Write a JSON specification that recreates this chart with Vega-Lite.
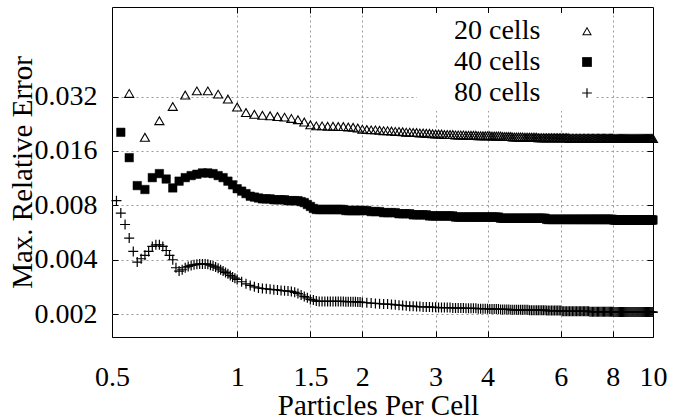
{
"$schema": "https://vega.github.io/schema/vega-lite/v6.json",
"width": 541, "height": 330,
"autosize": {"type": "none"},
"padding": {"left": 112, "top": 7, "right": 20, "bottom": 82},
"background": "white",
"config": {
  "font": "Liberation Serif",
  "view": {"stroke": "black", "strokeWidth": 1},
  "legend": {"labelFont": "Liberation Serif", "titleFont": "Liberation Serif"},
  "axis": {"labelFont": "Liberation Serif", "titleFont": "Liberation Serif", "labelFontSize": 28, "titleFontSize": 29, "labelColor": "black", "titleColor": "black", "titleFontWeight": "normal", "tickColor": "black", "tickWidth": 1, "gridColor": "#999999", "gridDash": [2, 3], "gridWidth": 1, "gridOpacity": 1, "domain": false, "labelFlush": false, "labelOverlap": false}
},
"datasets": {
"c20": [
{"x":0.55,"y":0.0334},{"x":0.6,"y":0.0191},{"x":0.65,"y":0.0236},{"x":0.7,"y":0.0283},{"x":0.75,"y":0.0327},{"x":0.8,"y":0.0345},{"x":0.85,"y":0.0345},{"x":0.9,"y":0.0331},{"x":0.95,"y":0.0311},{"x":1,"y":0.0281},
{"x":1.05,"y":0.0262},{"x":1.1,"y":0.0256},{"x":1.15,"y":0.0253},{"x":1.2,"y":0.0251},{"x":1.25,"y":0.0249},{"x":1.3,"y":0.0247},{"x":1.35,"y":0.0243},{"x":1.4,"y":0.0239},{"x":1.45,"y":0.0232},{"x":1.5,"y":0.0224},
{"x":1.55,"y":0.0221},{"x":1.6,"y":0.0221},{"x":1.65,"y":0.022},{"x":1.7,"y":0.022},{"x":1.75,"y":0.0219},{"x":1.8,"y":0.0219},{"x":1.85,"y":0.0218},{"x":1.9,"y":0.0217},{"x":1.95,"y":0.0215},{"x":2,"y":0.0212},
{"x":2.05,"y":0.0211},{"x":2.1,"y":0.021},{"x":2.15,"y":0.021},{"x":2.2,"y":0.0209},{"x":2.25,"y":0.0208},{"x":2.3,"y":0.0208},{"x":2.35,"y":0.0207},{"x":2.4,"y":0.0206},{"x":2.45,"y":0.0206},{"x":2.5,"y":0.0205},
{"x":2.55,"y":0.0204},{"x":2.6,"y":0.0204},{"x":2.65,"y":0.0203},{"x":2.7,"y":0.0203},{"x":2.75,"y":0.0202},{"x":2.8,"y":0.0202},{"x":2.85,"y":0.0201},{"x":2.9,"y":0.0201},{"x":2.95,"y":0.02},{"x":3,"y":0.0199},
{"x":3.05,"y":0.0199},{"x":3.1,"y":0.0199},{"x":3.15,"y":0.0198},{"x":3.2,"y":0.0198},{"x":3.25,"y":0.0198},{"x":3.3,"y":0.0198},{"x":3.35,"y":0.0197},{"x":3.4,"y":0.0197},{"x":3.45,"y":0.0197},{"x":3.5,"y":0.0197},
{"x":3.55,"y":0.0196},{"x":3.6,"y":0.0196},{"x":3.65,"y":0.0196},{"x":3.7,"y":0.0196},{"x":3.75,"y":0.0196},{"x":3.8,"y":0.0195},{"x":3.85,"y":0.0195},{"x":3.9,"y":0.0195},{"x":3.95,"y":0.0195},{"x":4,"y":0.0195},
{"x":4.05,"y":0.0195},{"x":4.1,"y":0.0194},{"x":4.15,"y":0.0194},{"x":4.2,"y":0.0194},{"x":4.25,"y":0.0194},{"x":4.3,"y":0.0194},{"x":4.35,"y":0.0193},{"x":4.4,"y":0.0193},{"x":4.45,"y":0.0193},{"x":4.5,"y":0.0193},
{"x":4.55,"y":0.0193},{"x":4.6,"y":0.0192},{"x":4.65,"y":0.0192},{"x":4.7,"y":0.0192},{"x":4.75,"y":0.0192},{"x":4.8,"y":0.0192},{"x":4.85,"y":0.0192},{"x":4.9,"y":0.0191},{"x":4.95,"y":0.0191},{"x":5,"y":0.0191},
{"x":5.05,"y":0.0191},{"x":5.1,"y":0.0191},{"x":5.15,"y":0.0191},{"x":5.2,"y":0.0191},{"x":5.25,"y":0.0191},{"x":5.3,"y":0.019},{"x":5.35,"y":0.019},{"x":5.4,"y":0.019},{"x":5.45,"y":0.019},{"x":5.5,"y":0.019},
{"x":5.55,"y":0.019},{"x":5.6,"y":0.019},{"x":5.65,"y":0.019},{"x":5.7,"y":0.019},{"x":5.75,"y":0.019},{"x":5.8,"y":0.019},{"x":5.85,"y":0.019},{"x":5.9,"y":0.019},{"x":5.95,"y":0.019},{"x":6,"y":0.019},
{"x":6.05,"y":0.019},{"x":6.1,"y":0.019},{"x":6.15,"y":0.019},{"x":6.2,"y":0.019},{"x":6.25,"y":0.019},{"x":6.3,"y":0.0189},{"x":6.35,"y":0.0189},{"x":6.4,"y":0.0189},{"x":6.45,"y":0.0189},{"x":6.5,"y":0.0189},
{"x":6.55,"y":0.0189},{"x":6.6,"y":0.0189},{"x":6.65,"y":0.0189},{"x":6.7,"y":0.0189},{"x":6.75,"y":0.0189},{"x":6.8,"y":0.0189},{"x":6.85,"y":0.0189},{"x":6.9,"y":0.0189},{"x":6.95,"y":0.0189},{"x":7,"y":0.0189},
{"x":7.05,"y":0.0189},{"x":7.1,"y":0.0189},{"x":7.15,"y":0.0189},{"x":7.2,"y":0.0189},{"x":7.25,"y":0.0189},{"x":7.3,"y":0.0189},{"x":7.35,"y":0.0189},{"x":7.4,"y":0.0189},{"x":7.45,"y":0.0189},{"x":7.5,"y":0.0189},
{"x":7.55,"y":0.0189},{"x":7.6,"y":0.0189},{"x":7.65,"y":0.0189},{"x":7.7,"y":0.0189},{"x":7.75,"y":0.0189},{"x":7.8,"y":0.0189},{"x":7.85,"y":0.0189},{"x":7.9,"y":0.0189},{"x":7.95,"y":0.0189},{"x":8,"y":0.0189},
{"x":8.05,"y":0.0188},{"x":8.1,"y":0.0188},{"x":8.15,"y":0.0188},{"x":8.2,"y":0.0188},{"x":8.25,"y":0.0188},{"x":8.3,"y":0.0188},{"x":8.35,"y":0.0188},{"x":8.4,"y":0.0188},{"x":8.45,"y":0.0188},{"x":8.5,"y":0.0188},
{"x":8.55,"y":0.0188},{"x":8.6,"y":0.0188},{"x":8.65,"y":0.0188},{"x":8.7,"y":0.0188},{"x":8.75,"y":0.0188},{"x":8.8,"y":0.0188},{"x":8.85,"y":0.0188},{"x":8.9,"y":0.0188},{"x":8.95,"y":0.0188},{"x":9,"y":0.0188},
{"x":9.05,"y":0.0188},{"x":9.1,"y":0.0188},{"x":9.15,"y":0.0188},{"x":9.2,"y":0.0188},{"x":9.25,"y":0.0188},{"x":9.3,"y":0.0188},{"x":9.35,"y":0.0188},{"x":9.4,"y":0.0188},{"x":9.45,"y":0.0188},{"x":9.5,"y":0.0188},
{"x":9.55,"y":0.0188},{"x":9.6,"y":0.0188},{"x":9.65,"y":0.0188},{"x":9.7,"y":0.0188},{"x":9.75,"y":0.0188},{"x":9.8,"y":0.0188},{"x":9.85,"y":0.0188},{"x":9.9,"y":0.0188},{"x":9.95,"y":0.0188},{"x":10,"y":0.0188}
],
"c40": [
{"x":0.525,"y":0.0203},{"x":0.55,"y":0.0147},{"x":0.575,"y":0.0103},{"x":0.6,"y":0.0098},{"x":0.625,"y":0.0114},{"x":0.65,"y":0.012},{"x":0.675,"y":0.0112},{"x":0.7,"y":0.01},{"x":0.725,"y":0.0109},{"x":0.75,"y":0.0114},
{"x":0.775,"y":0.0117},{"x":0.8,"y":0.0119},{"x":0.825,"y":0.0121},{"x":0.85,"y":0.0121},{"x":0.875,"y":0.012},{"x":0.9,"y":0.0117},{"x":0.925,"y":0.0114},{"x":0.95,"y":0.0109},{"x":0.975,"y":0.0104},{"x":1,"y":0.0099},
{"x":1.025,"y":0.0096},{"x":1.05,"y":0.0093},{"x":1.075,"y":0.009},{"x":1.1,"y":0.0089},{"x":1.125,"y":0.0088},{"x":1.15,"y":0.0087},{"x":1.175,"y":0.0087},{"x":1.2,"y":0.0087},{"x":1.225,"y":0.0086},{"x":1.25,"y":0.0086},
{"x":1.275,"y":0.0086},{"x":1.3,"y":0.0086},{"x":1.325,"y":0.0085},{"x":1.35,"y":0.0085},{"x":1.375,"y":0.0085},{"x":1.4,"y":0.0085},{"x":1.425,"y":0.0084},{"x":1.45,"y":0.0083},{"x":1.475,"y":0.0081},{"x":1.5,"y":0.0079},
{"x":1.525,"y":0.0077},{"x":1.55,"y":0.0076},{"x":1.575,"y":0.0076},{"x":1.6,"y":0.0076},{"x":1.625,"y":0.0076},{"x":1.65,"y":0.0076},{"x":1.675,"y":0.0076},{"x":1.7,"y":0.0076},{"x":1.725,"y":0.0076},{"x":1.75,"y":0.0076},
{"x":1.775,"y":0.0076},{"x":1.8,"y":0.0076},{"x":1.825,"y":0.0075},{"x":1.85,"y":0.0075},{"x":1.875,"y":0.0075},{"x":1.9,"y":0.0075},{"x":1.925,"y":0.0075},{"x":1.95,"y":0.0075},{"x":1.975,"y":0.0075},{"x":2,"y":0.0075},
{"x":2.05,"y":0.0075},{"x":2.1,"y":0.0074},{"x":2.15,"y":0.0074},{"x":2.2,"y":0.0074},{"x":2.25,"y":0.0073},{"x":2.3,"y":0.0073},{"x":2.35,"y":0.0073},{"x":2.4,"y":0.0073},{"x":2.45,"y":0.0072},{"x":2.5,"y":0.0072},
{"x":2.55,"y":0.0072},{"x":2.6,"y":0.0072},{"x":2.65,"y":0.0071},{"x":2.7,"y":0.0071},{"x":2.75,"y":0.0071},{"x":2.8,"y":0.0071},{"x":2.85,"y":0.0071},{"x":2.9,"y":0.007},{"x":2.95,"y":0.007},{"x":3,"y":0.007},
{"x":3.05,"y":0.007},{"x":3.1,"y":0.007},{"x":3.15,"y":0.007},{"x":3.2,"y":0.007},{"x":3.25,"y":0.007},{"x":3.3,"y":0.007},{"x":3.35,"y":0.0069},{"x":3.4,"y":0.0069},{"x":3.45,"y":0.0069},{"x":3.5,"y":0.0069},
{"x":3.55,"y":0.0069},{"x":3.6,"y":0.0069},{"x":3.65,"y":0.0069},{"x":3.7,"y":0.0069},{"x":3.75,"y":0.0069},{"x":3.8,"y":0.0069},{"x":3.85,"y":0.0069},{"x":3.9,"y":0.0069},{"x":3.95,"y":0.0069},{"x":4,"y":0.0069},
{"x":4.05,"y":0.0069},{"x":4.1,"y":0.0069},{"x":4.15,"y":0.0069},{"x":4.2,"y":0.0069},{"x":4.25,"y":0.0069},{"x":4.3,"y":0.0068},{"x":4.35,"y":0.0068},{"x":4.4,"y":0.0068},{"x":4.45,"y":0.0068},{"x":4.5,"y":0.0068},
{"x":4.55,"y":0.0068},{"x":4.6,"y":0.0068},{"x":4.65,"y":0.0068},{"x":4.7,"y":0.0068},{"x":4.75,"y":0.0068},{"x":4.8,"y":0.0068},{"x":4.85,"y":0.0068},{"x":4.9,"y":0.0068},{"x":4.95,"y":0.0068},{"x":5,"y":0.0068},
{"x":5.05,"y":0.0068},{"x":5.1,"y":0.0068},{"x":5.15,"y":0.0068},{"x":5.2,"y":0.0068},{"x":5.25,"y":0.0068},{"x":5.3,"y":0.0068},{"x":5.35,"y":0.0068},{"x":5.4,"y":0.0068},{"x":5.45,"y":0.0068},{"x":5.5,"y":0.0068},
{"x":5.55,"y":0.0067},{"x":5.6,"y":0.0067},{"x":5.65,"y":0.0067},{"x":5.7,"y":0.0067},{"x":5.75,"y":0.0067},{"x":5.8,"y":0.0067},{"x":5.85,"y":0.0067},{"x":5.9,"y":0.0067},{"x":5.95,"y":0.0067},{"x":6,"y":0.0067},
{"x":6.05,"y":0.0067},{"x":6.1,"y":0.0067},{"x":6.15,"y":0.0067},{"x":6.2,"y":0.0067},{"x":6.25,"y":0.0067},{"x":6.3,"y":0.0067},{"x":6.35,"y":0.0067},{"x":6.4,"y":0.0067},{"x":6.45,"y":0.0067},{"x":6.5,"y":0.0067},
{"x":6.55,"y":0.0067},{"x":6.6,"y":0.0067},{"x":6.65,"y":0.0067},{"x":6.7,"y":0.0067},{"x":6.75,"y":0.0067},{"x":6.8,"y":0.0067},{"x":6.85,"y":0.0067},{"x":6.9,"y":0.0067},{"x":6.95,"y":0.0067},{"x":7,"y":0.0067},
{"x":7.05,"y":0.0067},{"x":7.1,"y":0.0067},{"x":7.15,"y":0.0067},{"x":7.2,"y":0.0067},{"x":7.25,"y":0.0067},{"x":7.3,"y":0.0067},{"x":7.35,"y":0.0067},{"x":7.4,"y":0.0067},{"x":7.45,"y":0.0067},{"x":7.5,"y":0.0067},
{"x":7.55,"y":0.0067},{"x":7.6,"y":0.0067},{"x":7.65,"y":0.0067},{"x":7.7,"y":0.0067},{"x":7.75,"y":0.0067},{"x":7.8,"y":0.0067},{"x":7.85,"y":0.0067},{"x":7.9,"y":0.0067},{"x":7.95,"y":0.0067},{"x":8,"y":0.0067},
{"x":8.05,"y":0.00665},{"x":8.1,"y":0.00665},{"x":8.15,"y":0.00665},{"x":8.2,"y":0.00665},{"x":8.25,"y":0.00665},{"x":8.3,"y":0.00665},{"x":8.35,"y":0.00665},{"x":8.4,"y":0.00665},{"x":8.45,"y":0.00665},{"x":8.5,"y":0.00665},
{"x":8.55,"y":0.00665},{"x":8.6,"y":0.00665},{"x":8.65,"y":0.00665},{"x":8.7,"y":0.00665},{"x":8.75,"y":0.00665},{"x":8.8,"y":0.00665},{"x":8.85,"y":0.00665},{"x":8.9,"y":0.00665},{"x":8.95,"y":0.00665},{"x":9,"y":0.00665},
{"x":9.05,"y":0.00665},{"x":9.1,"y":0.00665},{"x":9.15,"y":0.00665},{"x":9.2,"y":0.00665},{"x":9.25,"y":0.00665},{"x":9.3,"y":0.00665},{"x":9.35,"y":0.00665},{"x":9.4,"y":0.00665},{"x":9.45,"y":0.00665},{"x":9.5,"y":0.00665},
{"x":9.55,"y":0.00665},{"x":9.6,"y":0.00665},{"x":9.65,"y":0.00665},{"x":9.7,"y":0.00665},{"x":9.75,"y":0.00665},{"x":9.8,"y":0.00665},{"x":9.85,"y":0.00665},{"x":9.9,"y":0.00665},{"x":9.95,"y":0.00665},{"x":10,"y":0.00665}
],
"c80": [
{"x":0.5125,"y":0.0085},{"x":0.525,"y":0.00726},{"x":0.5375,"y":0.00628},{"x":0.55,"y":0.00528},{"x":0.5625,"y":0.00446},{"x":0.575,"y":0.00389},{"x":0.5875,"y":0.00406},{"x":0.6,"y":0.00424},{"x":0.6125,"y":0.00446},{"x":0.625,"y":0.00475},
{"x":0.6375,"y":0.00485},{"x":0.65,"y":0.00485},{"x":0.6625,"y":0.00475},{"x":0.675,"y":0.00451},{"x":0.6875,"y":0.00424},{"x":0.7,"y":0.00401},{"x":0.7125,"y":0.00362},{"x":0.725,"y":0.00347},{"x":0.7375,"y":0.00353},{"x":0.75,"y":0.00362},
{"x":0.7625,"y":0.00368},{"x":0.775,"y":0.00373},{"x":0.7875,"y":0.00376},{"x":0.8,"y":0.00378},{"x":0.8125,"y":0.0038},{"x":0.825,"y":0.0038},{"x":0.8375,"y":0.0038},{"x":0.85,"y":0.00378},{"x":0.8625,"y":0.00374},{"x":0.875,"y":0.0037},
{"x":0.8875,"y":0.00365},{"x":0.9,"y":0.0036},{"x":0.9125,"y":0.00353},{"x":0.925,"y":0.00347},{"x":0.9375,"y":0.00341},{"x":0.95,"y":0.00335},{"x":0.9625,"y":0.00328},{"x":0.975,"y":0.00322},{"x":0.9875,"y":0.00317},{"x":1,"y":0.00312},
{"x":1.025,"y":0.00303},{"x":1.05,"y":0.00295},{"x":1.075,"y":0.00289},{"x":1.1,"y":0.00284},{"x":1.125,"y":0.0028},{"x":1.15,"y":0.00278},{"x":1.175,"y":0.00277},{"x":1.2,"y":0.00275},{"x":1.225,"y":0.00274},{"x":1.25,"y":0.00273},
{"x":1.275,"y":0.00271},{"x":1.3,"y":0.0027},{"x":1.325,"y":0.00269},{"x":1.35,"y":0.00268},{"x":1.375,"y":0.00265},{"x":1.4,"y":0.00261},{"x":1.425,"y":0.00256},{"x":1.45,"y":0.00251},{"x":1.475,"y":0.00247},{"x":1.5,"y":0.00242},
{"x":1.525,"y":0.0024},{"x":1.55,"y":0.00237},{"x":1.575,"y":0.00236},{"x":1.6,"y":0.00236},{"x":1.625,"y":0.00236},{"x":1.65,"y":0.00236},{"x":1.675,"y":0.00236},{"x":1.7,"y":0.00236},{"x":1.725,"y":0.00236},{"x":1.75,"y":0.00236},
{"x":1.775,"y":0.00236},{"x":1.8,"y":0.00236},{"x":1.825,"y":0.00235},{"x":1.85,"y":0.00235},{"x":1.875,"y":0.00235},{"x":1.9,"y":0.00235},{"x":1.925,"y":0.00235},{"x":1.95,"y":0.00234},{"x":1.975,"y":0.00234},{"x":2,"y":0.00233},
{"x":2.05,"y":0.00232},{"x":2.1,"y":0.00231},{"x":2.15,"y":0.0023},{"x":2.2,"y":0.00229},{"x":2.25,"y":0.00228},{"x":2.3,"y":0.00228},{"x":2.35,"y":0.00227},{"x":2.4,"y":0.00226},{"x":2.45,"y":0.00225},{"x":2.5,"y":0.00224},
{"x":2.55,"y":0.00223},{"x":2.6,"y":0.00222},{"x":2.65,"y":0.00222},{"x":2.7,"y":0.00221},{"x":2.75,"y":0.00221},{"x":2.8,"y":0.0022},{"x":2.85,"y":0.0022},{"x":2.9,"y":0.0022},{"x":2.95,"y":0.00219},{"x":3,"y":0.00219},
{"x":3.05,"y":0.00218},{"x":3.1,"y":0.00218},{"x":3.15,"y":0.00218},{"x":3.2,"y":0.00218},{"x":3.25,"y":0.00218},{"x":3.3,"y":0.00217},{"x":3.35,"y":0.00217},{"x":3.4,"y":0.00217},{"x":3.45,"y":0.00217},{"x":3.5,"y":0.00217},
{"x":3.55,"y":0.00216},{"x":3.6,"y":0.00216},{"x":3.65,"y":0.00216},{"x":3.7,"y":0.00216},{"x":3.75,"y":0.00216},{"x":3.8,"y":0.00215},{"x":3.85,"y":0.00215},{"x":3.9,"y":0.00215},{"x":3.95,"y":0.00215},{"x":4,"y":0.00215},
{"x":4.05,"y":0.00214},{"x":4.1,"y":0.00214},{"x":4.15,"y":0.00214},{"x":4.2,"y":0.00214},{"x":4.25,"y":0.00214},{"x":4.3,"y":0.00213},{"x":4.35,"y":0.00213},{"x":4.4,"y":0.00213},{"x":4.45,"y":0.00213},{"x":4.5,"y":0.00213},
{"x":4.55,"y":0.00212},{"x":4.6,"y":0.00212},{"x":4.65,"y":0.00212},{"x":4.7,"y":0.00212},{"x":4.75,"y":0.00212},{"x":4.8,"y":0.00212},{"x":4.85,"y":0.00212},{"x":4.9,"y":0.00212},{"x":4.95,"y":0.00212},{"x":5,"y":0.00212},
{"x":5.05,"y":0.00211},{"x":5.1,"y":0.00211},{"x":5.15,"y":0.00211},{"x":5.2,"y":0.00211},{"x":5.25,"y":0.00211},{"x":5.3,"y":0.00211},{"x":5.35,"y":0.00211},{"x":5.4,"y":0.00211},{"x":5.45,"y":0.00211},{"x":5.5,"y":0.00211},
{"x":5.55,"y":0.0021},{"x":5.6,"y":0.0021},{"x":5.65,"y":0.0021},{"x":5.7,"y":0.0021},{"x":5.75,"y":0.0021},{"x":5.8,"y":0.0021},{"x":5.85,"y":0.0021},{"x":5.9,"y":0.0021},{"x":5.95,"y":0.0021},{"x":6,"y":0.0021},
{"x":6.05,"y":0.00208},{"x":6.1,"y":0.00208},{"x":6.15,"y":0.00208},{"x":6.2,"y":0.00208},{"x":6.25,"y":0.00208},{"x":6.3,"y":0.00208},{"x":6.35,"y":0.00208},{"x":6.4,"y":0.00208},{"x":6.45,"y":0.00208},{"x":6.5,"y":0.00208},
{"x":6.55,"y":0.00208},{"x":6.6,"y":0.00208},{"x":6.65,"y":0.00208},{"x":6.7,"y":0.00208},{"x":6.75,"y":0.00208},{"x":6.8,"y":0.00208},{"x":6.85,"y":0.00208},{"x":6.9,"y":0.00208},{"x":6.95,"y":0.00208},{"x":7,"y":0.00208},
{"x":7.05,"y":0.00207},{"x":7.1,"y":0.00207},{"x":7.15,"y":0.00207},{"x":7.2,"y":0.00207},{"x":7.25,"y":0.00207},{"x":7.3,"y":0.00207},{"x":7.35,"y":0.00207},{"x":7.4,"y":0.00207},{"x":7.45,"y":0.00207},{"x":7.5,"y":0.00207},
{"x":7.55,"y":0.00207},{"x":7.6,"y":0.00207},{"x":7.65,"y":0.00207},{"x":7.7,"y":0.00207},{"x":7.75,"y":0.00207},{"x":7.8,"y":0.00207},{"x":7.85,"y":0.00207},{"x":7.9,"y":0.00207},{"x":7.95,"y":0.00207},{"x":8,"y":0.00207},
{"x":8.05,"y":0.00206},{"x":8.1,"y":0.00206},{"x":8.15,"y":0.00206},{"x":8.2,"y":0.00206},{"x":8.25,"y":0.00206},{"x":8.3,"y":0.00206},{"x":8.35,"y":0.00206},{"x":8.4,"y":0.00206},{"x":8.45,"y":0.00206},{"x":8.5,"y":0.00206},
{"x":8.55,"y":0.00206},{"x":8.6,"y":0.00206},{"x":8.65,"y":0.00206},{"x":8.7,"y":0.00206},{"x":8.75,"y":0.00206},{"x":8.8,"y":0.00206},{"x":8.85,"y":0.00206},{"x":8.9,"y":0.00206},{"x":8.95,"y":0.00206},{"x":9,"y":0.00206},
{"x":9.05,"y":0.00206},{"x":9.1,"y":0.00206},{"x":9.15,"y":0.00206},{"x":9.2,"y":0.00206},{"x":9.25,"y":0.00206},{"x":9.3,"y":0.00206},{"x":9.35,"y":0.00206},{"x":9.4,"y":0.00206},{"x":9.45,"y":0.00206},{"x":9.5,"y":0.00206},
{"x":9.55,"y":0.00206},{"x":9.6,"y":0.00206},{"x":9.65,"y":0.00206},{"x":9.7,"y":0.00206},{"x":9.75,"y":0.00206},{"x":9.8,"y":0.00206},{"x":9.85,"y":0.00206},{"x":9.9,"y":0.00206},{"x":9.95,"y":0.00206},{"x":10,"y":0.00206}
]
},
"resolve": {"axis": {"x": "independent", "y": "independent"}},
"layer": [
{
  "data": {"name": "c20"},
  "mark": {"type": "point", "filled": true, "fill": "black", "strokeWidth": 0, "size": 120, "opacity": 1},
  "encoding": {
    "x": {"field": "x", "type": "quantitative", "scale": {"type": "log", "domain": [0.5, 10], "nice": false},
      "axis": {"orient": "bottom", "values": [0.5, 1, 1.5, 2, 3, 4, 6, 8, 10], "format": "~g", "grid": false, "tickSize": -6, "labelPadding": 32, "title": "Particles Per Cell", "titleBaseline": "alphabetic", "titleY": 77, "titleX": 266, "titleAlign": "center"}},
    "y": {"field": "y", "type": "quantitative", "scale": {"type": "log", "domain": [0.0015, 0.1], "nice": false},
      "axis": {"orient": "left", "values": [0.002, 0.004, 0.008, 0.016, 0.032], "format": ".3f", "grid": false, "tickSize": -6, "labelPadding": 21, "title": "Max. Relative Error", "titleBaseline": "alphabetic", "titleX": -81, "titleY": 165, "titleAlign": "center", "titleAngle": 270}},
    "shape": {"datum": "20 cells",
      "scale": {"domain": ["20 cells", "40 cells", "80 cells"], "range": ["M0,-0.866L1,0.866L-1,0.866ZM0,-0.465L-0.653,0.666L0.653,0.666Z", "square", "M-1,-0.12H-0.12V-1H0.12V-0.12H1V0.12H0.12V1H-0.12V0.12H-1Z"]},
      "legend": {"orient": "none", "legendX": 305, "legendY": 6, "title": null, "fillColor": "white", "padding": 4,
        "labelFontSize": 28, "labelFont": "Liberation Serif", "labelColor": "black", "labelOffset": -147, "symbolOffset": 152, "rowPadding": 3,
        "symbolFillColor": "black", "symbolStrokeColor": "black", "symbolStrokeWidth": 0, "symbolSize": 95, "symbolOpacity": 1}}
  }
},
{
  "data": {"name": "c40"},
  "mark": {"type": "point", "filled": true, "fill": "black", "stroke": "black", "strokeWidth": 0.5, "size": 72, "opacity": 1},
  "encoding": {
    "x": {"field": "x", "type": "quantitative", "axis": null},
    "y": {"field": "y", "type": "quantitative", "axis": null},
    "shape": {"datum": "40 cells"}
  }
},
{
  "data": {"name": "c80"},
  "mark": {"type": "point", "filled": true, "fill": "black", "strokeWidth": 0, "size": 100, "opacity": 1},
  "encoding": {
    "x": {"field": "x", "type": "quantitative", "axis": null},
    "y": {"field": "y", "type": "quantitative", "axis": null},
    "shape": {"datum": "80 cells"}
  }
},
{
  "data": {"name": "c20"},
  "mark": {"type": "point", "opacity": 0},
  "encoding": {
    "x": {"field": "x", "type": "quantitative",
      "axis": {"orient": "top", "values": [1, 1.5, 2, 3, 4, 6, 8], "labels": false, "grid": true, "tickSize": -6, "title": null}},
    "y": {"field": "y", "type": "quantitative",
      "axis": {"orient": "right", "values": [0.002, 0.004, 0.008, 0.016, 0.032], "labels": false, "grid": true, "tickSize": -6, "title": null}}
  }
}
]
}
